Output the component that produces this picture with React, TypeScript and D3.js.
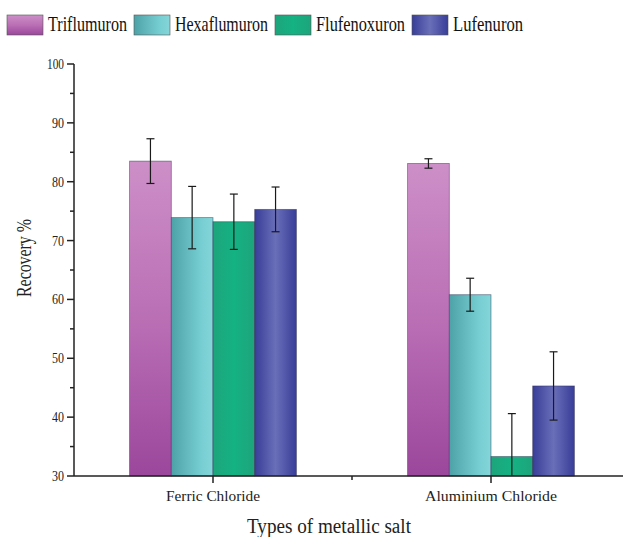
import React from 'react';
import * as d3 from 'd3';

// chart data
const categories = ['Ferric Chloride', 'Aluminium Chloride'];
const seriesNames = ['Triflumuron', 'Hexaflumuron', 'Flufenoxuron', 'Lufenuron'];
const triflumuronMean = [83.5, 83.1];
const triflumuronErr = [3.8, 0.8];
const hexaflumuronMean = [73.9, 60.8];
const hexaflumuronErr = [5.3, 2.8];
const flufenoxuronMean = [73.2, 33.3];
const flufenoxuronErr = [4.7, 7.3];
const lufenuronMean = [75.3, 45.3];
const lufenuronErr = [3.8, 5.8];
const yTicks = [30, 40, 50, 60, 70, 80, 90, 100];
const yMinorTicks = [35, 45, 55, 65, 75, 85, 95];

const means = [triflumuronMean, hexaflumuronMean, flufenoxuronMean, lufenuronMean];
const errs = [triflumuronErr, hexaflumuronErr, flufenoxuronErr, lufenuronErr];
const fills = ['url(#gTri)', 'url(#gHex)', 'url(#gFlu)', 'url(#gLuf)'];
const legendTextWidths = [79, 93, 89, 70];

const W = 623;
const H = 537;
const FONT = 'Liberation Serif, Times New Roman, serif';

const App: React.FC = () => {
  const axisX = 74;
  const axisY = 476;

  const y = d3.scaleLinear().domain([30, 100]).range([axisY, 64]);
  const x0 = d3.scaleBand<string>()
    .domain(categories)
    .range([axisX, 630])
    .paddingInner(0.4)
    .paddingOuter(0.2);
  const x1 = d3.scaleBand<string>()
    .domain(seriesNames)
    .range([0, x0.bandwidth()]);

  const midTick = (x0(categories[0])! + x0.bandwidth() + x0(categories[1])!) / 2;

  // legend layout
  let lx = 7;
  const legendItems = seriesNames.map((name, i) => {
    const item = { name, box: lx, text: lx + 41, w: legendTextWidths[i], fill: fills[i] };
    lx += 41 + legendTextWidths[i] + 7;
    return item;
  });

  return (
    <svg width={W} height={H} style={{ position: 'absolute', left: 0, top: 0, background: '#fff' }}>
      <defs>
        <linearGradient id="gTri" x1="0" y1="0" x2="0" y2="1">
          <stop offset="0" stopColor="#cd8fc8" />
          <stop offset="0.5" stopColor="#ba6fb5" />
          <stop offset="1" stopColor="#9b479c" />
        </linearGradient>
        <linearGradient id="gHex" x1="0" y1="0" x2="1" y2="0">
          <stop offset="0" stopColor="#4da2a8" />
          <stop offset="0.7" stopColor="#76cdd1" />
          <stop offset="1" stopColor="#84d6da" />
        </linearGradient>
        <linearGradient id="gFlu" x1="0" y1="0" x2="1" y2="0">
          <stop offset="0" stopColor="#1ea47b" />
          <stop offset="0.5" stopColor="#14b283" />
          <stop offset="1" stopColor="#1ea47b" />
        </linearGradient>
        <linearGradient id="gLuf" x1="0" y1="0" x2="1" y2="0">
          <stop offset="0" stopColor="#383d98" />
          <stop offset="0.5" stopColor="#6a6fb9" />
          <stop offset="1" stopColor="#383d98" />
        </linearGradient>
        <clipPath id="plotClip">
          <rect x={axisX} y={0} width={W - axisX} height={axisY} />
        </clipPath>
      </defs>

      {/* legend */}
      {legendItems.map((d) => (
        <g key={d.name}>
          <rect x={d.box} y={15} width={36} height={20} fill={d.fill} stroke="#555" strokeWidth={0.6} />
          <text
            x={d.text}
            y={31}
            fontFamily={FONT}
            fontSize={21}
            fill="#111"
            textLength={d.w}
            lengthAdjust="spacingAndGlyphs"
          >
            {d.name}
          </text>
        </g>
      ))}

      {/* bars */}
      {categories.map((cat, ci) => (
        <g key={cat} transform={`translate(${x0(cat)},0)`}>
          {seriesNames.map((s, si) => {
            const v = means[si][ci];
            return (
              <rect
                key={s}
                x={x1(s)}
                y={y(v)}
                width={x1.bandwidth()}
                height={axisY - y(v)}
                fill={fills[si]}
                stroke="#2a2a4a"
                strokeOpacity={0.55}
                strokeWidth={0.8}
              />
            );
          })}
        </g>
      ))}

      {/* error bars */}
      <g clipPath="url(#plotClip)" stroke="#1a1a1a" strokeWidth={1.2}>
        {categories.map((cat, ci) =>
          seriesNames.map((s, si) => {
            const cx = x0(cat)! + x1(s)! + x1.bandwidth() / 2;
            const hi = y(means[si][ci] + errs[si][ci]);
            const lo = y(means[si][ci] - errs[si][ci]);
            return (
              <g key={cat + s}>
                <line x1={cx} x2={cx} y1={hi} y2={lo} />
                <line x1={cx - 4} x2={cx + 4} y1={hi} y2={hi} />
                <line x1={cx - 4} x2={cx + 4} y1={lo} y2={lo} />
              </g>
            );
          })
        )}
      </g>

      {/* y axis */}
      <g stroke="#222" strokeWidth={1.5}>
        <line x1={axisX} x2={axisX} y1={y(100)} y2={axisY} />
        {yTicks.map((t) => (
          <line key={t} x1={axisX - 7} x2={axisX} y1={y(t)} y2={y(t)} />
        ))}
        {yMinorTicks.map((t) => (
          <line key={t} x1={axisX - 4} x2={axisX} y1={y(t)} y2={y(t)} />
        ))}
      </g>
      {yTicks.map((t) => (
        <text
          key={t}
          x={axisX - 10}
          y={y(t) + 5}
          textAnchor="end"
          fontFamily={FONT}
          fontSize={15}
          fill="#222"
          textLength={t === 100 ? 17 : 12}
          lengthAdjust="spacingAndGlyphs"
        >
          {t}
        </text>
      ))}
      <text
        transform={`translate(31,258) rotate(-90)`}
        textAnchor="middle"
        fontFamily={FONT}
        fontSize={20}
        fill="#222"
        textLength={78}
        lengthAdjust="spacingAndGlyphs"
      >
        Recovery %
      </text>

      {/* x axis */}
      <g stroke="#222" strokeWidth={1.5}>
        <line x1={axisX} x2={W} y1={axisY} y2={axisY} />
        {categories.map((cat) => {
          const cx = x0(cat)! + x0.bandwidth() / 2;
          return <line key={cat} x1={cx} x2={cx} y1={axisY} y2={axisY + 7} />;
        })}
        <line x1={midTick} x2={midTick} y1={axisY} y2={axisY + 4} />
      </g>
      {categories.map((cat, i) => (
        <text
          key={cat}
          x={x0(cat)! + x0.bandwidth() / 2}
          y={501}
          textAnchor="middle"
          fontFamily={FONT}
          fontSize={15}
          fill="#222"
          textLength={i === 0 ? 94 : 132}
          lengthAdjust="spacingAndGlyphs"
        >
          {cat}
        </text>
      ))}
      <text
        x={329}
        y={533}
        textAnchor="middle"
        fontFamily={FONT}
        fontSize={20}
        fill="#222"
        textLength={164}
        lengthAdjust="spacingAndGlyphs"
      >
        Types of metallic salt
      </text>
    </svg>
  );
};

export default App;
